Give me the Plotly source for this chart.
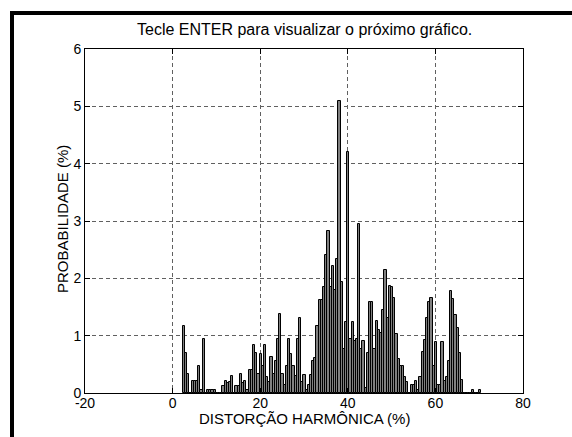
import numpy as np
import plotly.graph_objects as go

# Histogram of harmonic distortion (bins of 0.5 %, first bin starts at 2.35 %)
bin_start = 2.35
bin_width = 0.5
probabilidade = [
    1.17, 0.69, 0.33, 0.00, 0.21, 0.21, 0.21, 0.47, 0.06, 0.95,
    0.00, 0.06, 0.06, 0.06, 0.06, 0.00, 0.00, 0.00, 0.12, 0.21,
    0.17, 0.20, 0.30, 0.00, 0.13, 0.13, 0.33, 0.17, 0.21, 0.06,
    0.40, 0.40, 0.84, 0.69, 0.34, 0.68, 0.47, 0.84, 0.28, 0.20,
    0.62, 0.33, 0.55, 0.95, 1.38, 0.33, 0.14, 0.47, 0.95, 0.68,
    0.47, 0.30, 0.95, 1.30, 0.20, 0.31, 0.05, 0.14, 0.31, 0.55,
    0.61, 1.17, 1.63, 1.63, 1.85, 2.40, 2.83, 1.85, 2.21, 1.79,
    2.33, 5.10, 1.94, 0.76, 1.23, 4.20, 0.95, 1.23, 0.90, 0.95,
    2.95, 0.76, 0.90, 0.08, 0.69, 1.59, 1.59, 0.76, 1.25, 1.10,
    1.04, 1.45, 2.14, 1.30, 1.86, 1.85, 1.65, 1.03, 0.60, 0.47,
    0.47, 0.28, 0.20, 0.00, 0.14, 0.14, 0.21, 0.06, 0.28, 0.72,
    0.92, 1.30, 1.59, 1.65, 0.47, 0.89, 0.14, 0.14, 0.89, 0.21,
    0.28, 0.55, 1.78, 1.64, 1.36, 1.14, 0.69, 0.22, 0.00, 0.00,
    0.00, 0.00, 0.06, 0.00, 0.00, 0.06,
]
x_ticks = [-20, 0, 20, 40, 60, 80]
y_ticks = [0, 1, 2, 3, 4, 5, 6]

centros = bin_start + bin_width * (np.arange(len(probabilidade)) + 0.5)

W, H = 572, 437
L, R, T, B = 85, 523, 49, 393          # plot box in pixels
def px(xp):
    return (xp - L) / (R - L)
def py(yp):
    return (B - yp) / (B - T)

fonte = "Liberation Sans, Arial, Helvetica, sans-serif"

fig = go.Figure(
    go.Bar(
        x=centros,
        y=probabilidade,
        width=bin_width,
        marker=dict(color="#808080", line=dict(color="black", width=1)),
        hoverinfo="x+y",
    )
)

eixo = dict(
    showline=True, linecolor="black", linewidth=1, mirror="ticks",
    ticks="inside", ticklen=5, tickcolor="black", tickwidth=1,
    showgrid=True, gridcolor="#606060", gridwidth=1, griddash="4px,3px",
    zeroline=False,
    tickfont=dict(family=fonte, size=14, color="black"),
)

fig.update_layout(
    width=W, height=H,
    margin=dict(l=L, r=W - R, t=T, b=H - B, pad=0),
    paper_bgcolor="white", plot_bgcolor="white",
    bargap=0, showlegend=False,
    xaxis=dict(eixo, range=[-20, 80], tickvals=x_ticks,
               ticktext=[str(v) for v in x_ticks], ticklabelstandoff=-3),
    yaxis=dict(eixo, range=[0, 6], tickvals=y_ticks,
               ticktext=[str(v) for v in y_ticks]),
    annotations=[
        dict(text="Tecle ENTER para visualizar o próximo gráfico.",
             x=px(304), y=py(30), xref="paper", yref="paper",
             showarrow=False, xanchor="center", yanchor="middle",
             font=dict(family=fonte, size=16, color="black")),
        dict(text="DISTORÇÃO HARMÔNICA (%)",
             x=px(304), y=py(419), xref="paper", yref="paper",
             showarrow=False, xanchor="center", yanchor="middle",
             font=dict(family=fonte, size=15, color="black")),
        dict(text="PROBABILIDADE (%)", textangle=-90,
             x=px(62), y=py(219), xref="paper", yref="paper",
             showarrow=False, xanchor="center", yanchor="middle",
             font=dict(family=fonte, size=15, color="black")),
    ],
    shapes=[
        # heavy frame on the left and top edges of the window
        dict(type="rect", xref="paper", yref="paper",
             x0=px(10), x1=px(14), y0=py(437), y1=py(11),
             fillcolor="black", line=dict(width=0), layer="above"),
        dict(type="rect", xref="paper", yref="paper",
             x0=px(10), x1=px(572), y0=py(15), y1=py(11),
             fillcolor="black", line=dict(width=0), layer="above"),
    ],
)

fig.write_html("out.html")
